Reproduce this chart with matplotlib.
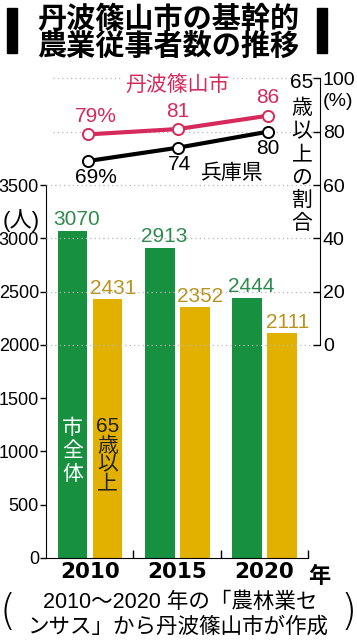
import numpy as np
import matplotlib.pyplot as plt
from matplotlib import font_manager

W, H = 357, 640
JP = "Noto Sans CJK JP"
names = {f.name for f in font_manager.fontManager.ttflist}
NUM = "Liberation Sans Narrow" if "Liberation Sans Narrow" in names else "Liberation Sans"
plt.rcParams["font.family"] = [NUM, JP, "DejaVu Sans"]

years = ["2010", "2015", "2020"]
total = [3070, 2913, 2444]          # 市全体 (人)
over65 = [2431, 2352, 2111]         # 65歳以上 (人)
share_city = [79, 81, 86]           # 丹波篠山市 65歳以上の割合 (%)
share_pref = [69, 74, 80]           # 兵庫県 (%)

GREEN = "#17903f"
YELLOW = "#e2b100"
GREEN_TXT = "#2f8a4e"
YELLOW_TXT = "#b8941e"
PINK = "#d42a5c"
GRID = "#b8b8b8"


def fx(px):
    return px / W


def fy(py):
    return 1 - py / H


fig = plt.figure(figsize=(W / 100, H / 100), dpi=100)
fig.patch.set_facecolor("white")

# title
fig.text(fx(168), fy(32), "丹波篠山市の基幹的\n農業従事者数の推移", family=JP,
         fontsize=21, fontweight="bold", ha="center", va="center",
         linespacing=0.88)
for x0 in (7, 317):
    fig.patches.append(plt.Rectangle((fx(x0), fy(53)), fx(10), 45 / H,
                                     transform=fig.transFigure, color="black"))

# main axes (people)
ax = fig.add_axes([fx(46), fy(558), fx(320 - 46), (558 - 60) / H])
ax.set_xlim(-0.5, -0.5 + (320 - 46) / 87.33)
ax.set_ylim(0, 498 / 0.10657)
x = np.arange(len(years))
bw = 0.34
ax.bar(x - 0.195, total, bw, color=GREEN, zorder=2)
ax.bar(x + 0.205, over65, bw, color=YELLOW, zorder=2)
for xi, v in zip(x, total):
    ax.annotate(str(v), (xi - 0.15, v), xytext=(0, 1), textcoords="offset points",
                ha="center", va="bottom", color=GREEN_TXT, fontsize=15)
for xi, v in zip(x, over65):
    ax.annotate(str(v), (xi + 0.27, v), xytext=(0, 1), textcoords="offset points",
                ha="center", va="bottom", color=YELLOW_TXT, fontsize=15)

for s in ("top", "right"):
    ax.spines[s].set_visible(False)
ax.spines["left"].set_bounds(0, 3500)
ax.spines["bottom"].set_bounds(-0.5, 2.5)
ax.set_yticks(range(0, 3501, 500))
ax.tick_params(axis="y", direction="out", length=4, width=1, labelsize=13, pad=1)
ax.set_xticks(x)
ax.set_xticklabels(years, family="DejaVu Sans", fontweight="bold", fontsize=15.5)
ax.tick_params(axis="x", length=0, pad=3)
ax.set_xticks([0.5, 1.5, 2.5], minor=True)
ax.tick_params(axis="x", which="minor", direction="in", length=6, width=1)
ax.text(2.5, -70, "年", family=JP, fontweight="bold", fontsize=16,
        ha="left", va="top", transform=ax.transData)
ax.text(-0.5 - 25 / 87.33, 3170, "(人)", fontsize=16, ha="center", va="center",
        family=[NUM, JP])

# labels inside the 2010 bars
ax.text(-0.195, 1320, "市\n全\n体", color="white", family=JP, fontsize=15,
        ha="center", va="top", linespacing=1.05)
ax.text(0.205, 1320, "65\n歳\n以\n上", color="#222222", family=[NUM, JP],
        fontsize=15, ha="center", va="top", linespacing=1.0)

# right axis (share %)
ax2 = ax.twinx()
lo, hi = ax.get_ylim()
ax2.set_ylim((lo - 2000) / 25, (hi - 2000) / 25)
for s in ("top", "left", "bottom"):
    ax2.spines[s].set_visible(False)
ax2.spines["right"].set_bounds(0, 100)
ax2.set_yticks(range(0, 101, 20))
ax2.tick_params(axis="y", direction="in", length=5, width=1, labelsize=14, pad=2)
for v in range(0, 101, 20):
    start = (53 - 46) / 274 if v >= 80 else 0
    ax2.axhline(v, xmin=start, xmax=1, color=GRID, ls=(0, (1, 2.5)), lw=0.9, zorder=0)

xl = np.arange(3) * 1.03 - 0.02
ax2.plot(xl, share_city, color=PINK, lw=3, marker="o", ms=8, mfc="white",
         mec=PINK, mew=1.4, zorder=4, clip_on=False)
ax2.plot(xl, share_pref, color="black", lw=3, marker="o", ms=8, mfc="white",
         mec="black", mew=1.4, zorder=4, clip_on=False)
city_lbl = ["79%", "81", "86"]
pref_lbl = ["69%", "74", "80"]
for xi, v, t, dx in zip(xl, share_city, city_lbl, (0.09, 0, 0)):
    ax2.annotate(t, (xi + dx, v), xytext=(0, 6), textcoords="offset points",
                 ha="center", va="bottom", color=PINK, fontsize=15)
for xi, v, t, dx in zip(xl, share_pref, pref_lbl, (0.09, 0.02, 0)):
    ax2.annotate(t, (xi + dx, v), xytext=(0, -5), textcoords="offset points",
                 ha="center", va="top", color="black", fontsize=15)
ax2.text(1.0, 97.5, "丹波篠山市", color=PINK, family=JP, fontsize=15,
         ha="center", va="center", bbox=dict(fc="white", ec="none", pad=1))
ax2.text(1.63, 64.5, "兵庫県", color="black", family=JP, fontsize=15,
         ha="center", va="center")

# vertical right-axis label
fig.text(fx(302), fy(83), "65", fontsize=15, ha="center", va="center")
fig.text(fx(302), fy(97), "歳\n以\n上\nの\n割\n合", family=JP, fontsize=15,
         ha="center", va="top", linespacing=1.06)
fig.text(fx(338), fy(101), "(%)", fontsize=14, ha="center", va="center")

# source
fig.text(fx(180), fy(603), "2010～2020 年の「農林業セ", family=[NUM, JP],
         fontsize=15.5, ha="center", va="center")
fig.text(fx(178), fy(627), "ンサス」から丹波篠山市が作成", family=JP,
         fontsize=15.5, ha="center", va="center")
fig.text(fx(8), fy(612), "(", family="DejaVu Sans", fontsize=30,
         fontweight="light", ha="center", va="center")
fig.text(fx(349), fy(612), ")", family="DejaVu Sans", fontsize=30,
         fontweight="light", ha="center", va="center")

fig.savefig("out.png", dpi=100)
